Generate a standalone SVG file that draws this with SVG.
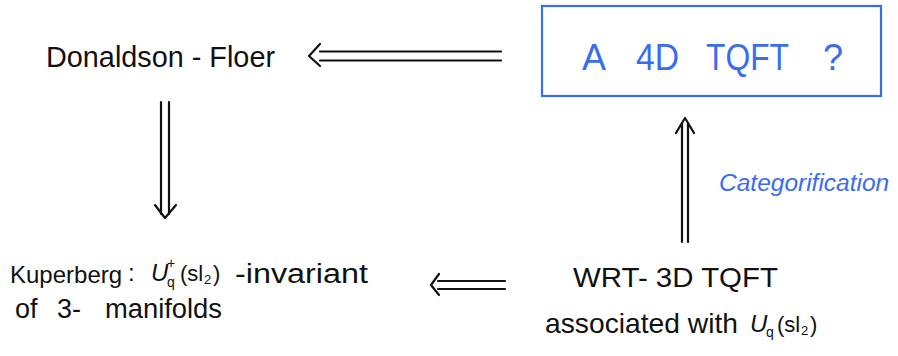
<svg xmlns="http://www.w3.org/2000/svg" width="898" height="356" viewBox="0 0 898 356">
<style>
.t{font-family:"Liberation Sans","DejaVu Sans",sans-serif;fill:#111}
.b{fill:#3a6cf0}
.ln{stroke:#111;stroke-width:2.2;fill:none;stroke-linecap:round;stroke-linejoin:round}
.box{stroke:#3a6cf0;stroke-width:2.2;fill:none}
</style>
<rect width="898" height="356" fill="#fff"/>
<g id="donaldson-floer">
<text class="t" x="46" y="67" font-size="30" textLength="229" lengthAdjust="spacingAndGlyphs">Donaldson - Floer</text>
</g>
<g id="tqft-4d">
<rect class="box" x="542" y="6" width="339" height="90"/>
<text class="t b" x="582" y="70" font-size="36">A</text>
<text class="t b" x="636" y="70" font-size="36" textLength="43" lengthAdjust="spacingAndGlyphs">4D</text>
<text class="t b" x="706" y="70" font-size="36" textLength="83" lengthAdjust="spacingAndGlyphs">TQFT</text>
<text class="t b" x="823" y="70" font-size="36">?</text>
</g>
<g id="kuperberg">
<text class="t" x="10" y="283" font-size="24">Kuperberg</text>
<text class="t" x="128" y="281" font-size="24">:</text>
<text class="t" x="151" y="281" font-size="24" font-style="italic">U</text>
<text class="t" x="167" y="287" font-size="14">q</text>
<text class="t" x="167" y="268" font-size="14">+</text>
<text class="t" x="180" y="281" font-size="22">(sl</text>
<text class="t" x="204" y="284" font-size="13">2</text>
<text class="t" x="213" y="281" font-size="22">)</text>
<text class="t" x="235" y="283" font-size="27" textLength="133" lengthAdjust="spacingAndGlyphs">-invariant</text>
<text class="t" x="15" y="318" font-size="27">of</text>
<text class="t" x="57" y="318" font-size="27">3-</text>
<text class="t" x="105" y="318" font-size="27" textLength="117" lengthAdjust="spacingAndGlyphs">manifolds</text>
</g>
<g id="wrt-3d-tqft">
<text class="t" x="573" y="287" font-size="28" textLength="205" lengthAdjust="spacingAndGlyphs">WRT- 3D TQFT</text>
<text class="t" x="545" y="333" font-size="28" textLength="193" lengthAdjust="spacingAndGlyphs">associated with</text>
<text class="t" x="750" y="332" font-size="24" font-style="italic">U</text>
<text class="t" x="766" y="337" font-size="14">q</text>
<text class="t" x="777" y="332" font-size="22">(sl</text>
<text class="t" x="801" y="335" font-size="13">2</text>
<text class="t" x="810" y="332" font-size="22">)</text>
</g>
<g id="connectors">
<g id="edge-4d-to-df">
<line class="ln" x1="320" y1="51.5" x2="501" y2="51.5"/>
<line class="ln" x1="320" y1="60.5" x2="501" y2="60.5"/>
<polyline class="ln" points="320,44 309,56 320,66"/>
</g>
<g id="edge-df-to-kup">
<line class="ln" x1="161" y1="102" x2="161" y2="214"/>
<line class="ln" x1="169" y1="102" x2="169" y2="214"/>
<polyline class="ln" points="155,205 165,218 176,205"/>
</g>
<g id="edge-wrt-to-kup">
<line class="ln" x1="438" y1="281" x2="505" y2="281"/>
<line class="ln" x1="438" y1="289" x2="505" y2="289"/>
<polyline class="ln" points="439,274 431,285 439,295"/>
</g>
<g id="edge-wrt-to-4d">
<line class="ln" x1="682" y1="123" x2="682" y2="242"/>
<line class="ln" x1="688" y1="123" x2="688" y2="242"/>
<polyline class="ln" points="676,133 685,118 694,133"/>
<text class="t b" x="719" y="191" font-size="24.5" font-style="italic">Categorification</text>
</g>
</g>
</svg>
